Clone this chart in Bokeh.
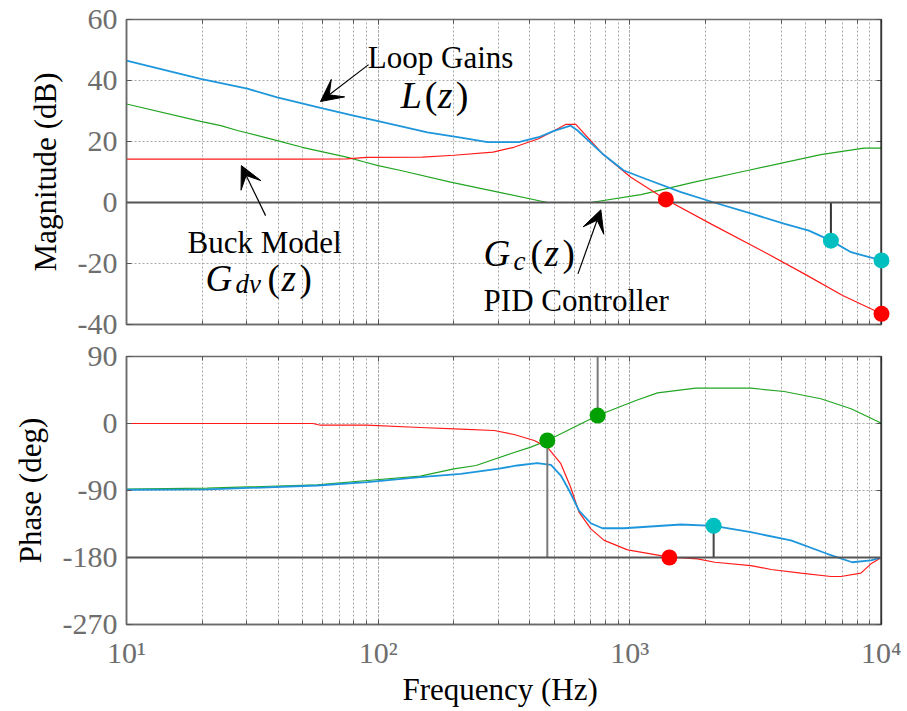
import numpy as np
from bokeh.plotting import figure
from bokeh.layouts import column
from bokeh.models import (FixedTicker, LinearAxis, LogAxis, Span, Label, Arrow,
                          VeeHead, ColumnDataSource, Range1d)
from bokeh.embed import file_html
from bokeh.resources import INLINE

# ---------------- data ----------------
# Magnitude (dB)
f_loop_mag = [10, 19.7, 30.2, 39.7, 59, 79.8, 100, 157, 213, 272, 362, 434, 500, 582,
              620, 778, 946, 1159, 1597, 2159, 3000, 4093, 5148, 6295, 7568, 10000]
loop_mag = [46.5, 40.5, 37.3, 34.5, 31.0, 28.5, 26.7, 23.0, 21.3, 19.8, 19.8, 21.4, 23.5, 25.2,
            23.6, 16.0, 10.5, 7.7, 3.4, 0.0, -3.5, -6.9, -9.2, -12.5, -16.3, -19.0]

f_buck_mag = [10, 20, 50, 75, 90, 150, 200, 286, 346, 434, 500, 556, 610, 778, 1009,
              1390, 2099, 3524, 4935, 7010, 10000]
buck_mag = [14.2, 14.2, 14.2, 14.3, 14.8, 14.9, 15.5, 16.5, 18.1, 20.9, 23.5, 25.6, 25.6, 16.0, 8.3,
            1.0, -7.0, -16.8, -23.4, -30.5, -36.5]

f_pid_mag = [10, 19.7, 23.7, 27.6, 39.7, 49.9, 75, 89, 100, 123, 194, 300, 470, 700,
             1107, 1802, 2938, 5741, 8510, 10000]
pid_mag = [32.3, 26.6, 25.2, 23.6, 20.3, 18.1, 14.9, 13.2, 12.1, 10.5, 6.7, 3.4, 0.0, 0.0,
           2.6, 6.7, 10.5, 15.7, 17.8, 17.8]

# Phase (deg)
f_buck_ph = [10, 55, 59, 90, 147, 213, 289, 347, 417, 470, 532, 582, 628, 700, 791, 980,
             1436, 1859, 2178, 3027, 3639, 4786, 6295, 6902, 8280, 9080, 10000]
buck_ph = [0, 0, -2.3, -2.3, -5.4, -7.6, -9.4, -14.8, -22.8, -31.8, -54, -85.6, -119, -141.5,
           -157, -169.7, -179.6, -181.8, -186.4, -190.8, -196.1, -201, -205.5, -205.5, -201,
           -188.5, -180]

f_loop_ph = [10, 20.9, 57.3, 90.6, 147, 213, 298, 357, 428, 486, 532, 574, 628, 700, 778,
             948, 1597, 2153, 3027, 4365, 6080, 7645, 9080, 10000]
loop_ph = [-89, -88.6, -83.3, -78.8, -72, -67.6, -61, -56.4, -53.3, -55.5, -69.9, -90, -116.9,
           -134, -140.7, -140.7, -135.7, -137.5, -146, -157, -175, -186.4, -184, -180]

f_pid_ph = [10, 20.9, 57.3, 90.6, 147, 200, 245, 335, 404, 470, 565, 745, 1057, 1288, 1828,
            3027, 4103, 5741, 7568, 10000]
pid_ph = [-88, -86.9, -82.4, -76.6, -70.8, -61, -56.4, -40.7, -31.8, -22.8, -9.4, 10.7, 30.9,
          41.2, 47.4, 47.4, 43, 33.2, 19.8, 0.4]

# margin markers
mag_red_f = [1390, 10000]
mag_red_v = [1.0, -36.5]
mag_cyan_f = [6295, 10000]
mag_cyan_v = [-12.5, -19.0]
ph_green_f = [470, 745]
ph_green_v = [-22.8, 10.7]
ph_red_f = [1436]
ph_red_v = [-180]
ph_cyan_f = [2153]
ph_cyan_v = [-137.5]

mag_ticks = [-40, -20, 0, 20, 40, 60]
ph_ticks = [-270, -180, -90, 0, 90]
x_tick_labels = {10: "10\u00b9", 100: "10\u00b2", 1000: "10\u00b3", 10000: "10\u2074"}

# ---------------- styling ----------------
FONT = "Liberation Serif"
BLUE = "#1e96dc"
RED = "#ff1a1a"
GREEN = "#22a522"
CYAN = "#00bfc0"
GREEN_M = "#00a000"
RED_M = "#ff0000"
GRAY = "#6e6e6e"


def hide_labels(ax):
    ax.major_label_text_font_size = "1px"
    ax.major_label_text_color = None
    ax.major_label_standoff = 0


def base_fig(y_lo, y_hi, ticks, ylabel, top, bottom, fh):
    p = figure(x_axis_type="log", x_range=Range1d(10, 1e4), y_range=Range1d(y_lo, y_hi),
               frame_width=755, frame_height=fh, min_border_left=126, min_border_right=20,
               min_border_top=top, min_border_bottom=bottom,
               output_backend="svg", toolbar_location=None)
    p.background_fill_color = "white"
    p.border_fill_color = None
    p.outline_line_color = "#6a6a6a"
    p.outline_line_width = 1.5
    for g in (p.xgrid, p.ygrid):
        g.grid_line_color = "#a8a8a8"
        g.grid_line_dash = "2 2"
        g.grid_line_width = 1
    p.xgrid.minor_grid_line_color = "#a8a8a8"
    p.xgrid.minor_grid_line_dash = "2 2"
    p.ygrid.ticker = FixedTicker(ticks=ticks)
    ya = p.left[0]
    xa = p.below[0]
    ya.ticker = FixedTicker(ticks=ticks)
    ya.major_label_overrides = {t: str(t) for t in ticks}
    ya.axis_label = ylabel
    ya.axis_label_text_font = FONT
    ya.axis_label_text_font_size = "31px"
    ya.axis_label_text_font_style = "normal"
    ya.axis_label_text_color = "black"
    ya.axis_label_standoff = 12
    ya.major_label_text_font = FONT
    ya.major_label_text_font_size = "30px"
    ya.major_label_text_color = GRAY
    ya.major_label_standoff = 9
    ya.axis_line_color = "#6a6a6a"
    ya.axis_line_width = 1.5
    ya.major_tick_in = 5
    ya.major_tick_out = 0
    ya.major_tick_line_color = "#555555"
    ya.minor_tick_line_color = None
    xa.axis_line_color = "#6a6a6a"
    xa.axis_line_width = 1.5
    xa.major_tick_in = 5
    xa.major_tick_out = 0
    xa.minor_tick_in = 4
    xa.minor_tick_out = 0
    xa.major_tick_line_color = "#555555"
    xa.minor_tick_line_color = "#555555"
    # right and top tick-only axes
    ra = LinearAxis(ticker=FixedTicker(ticks=ticks), axis_line_color=None, major_tick_in=5,
                    major_tick_out=0, minor_tick_line_color=None,
                    major_tick_line_color="#555555")
    hide_labels(ra)
    p.add_layout(ra, "right")
    ta = LogAxis(axis_line_color=None, major_tick_in=5, major_tick_out=0,
                 minor_tick_in=4, minor_tick_out=0, major_tick_line_color="#555555",
                 minor_tick_line_color="#555555")
    hide_labels(ta)
    p.add_layout(ta, "above")
    # right-hand reference line
    p.add_layout(Span(location=1e4, dimension="height", line_color="black", line_width=2))
    return p, xa


# ---------------- magnitude panel ----------------
p1, xa1 = base_fig(-40, 60, mag_ticks, "Magnitude (dB)", 19, 16, 305)
hide_labels(xa1)
p1.add_layout(Span(location=0, dimension="width", line_color="#555555", line_width=2))

p1.line(f_pid_mag, pid_mag, line_color=GREEN, line_width=1.2)
p1.line(f_buck_mag, buck_mag, line_color=RED, line_width=1.2)
p1.line(f_loop_mag, loop_mag, line_color=BLUE, line_width=1.8)

# gain-margin marker line
p1.segment(x0=[mag_cyan_f[0]], y0=[0], x1=[mag_cyan_f[0]], y1=[mag_cyan_v[0]],
           line_color="#333333", line_width=2)

p1.scatter(mag_red_f, mag_red_v, size=16, fill_color=RED_M, line_color=None, level="overlay")
p1.scatter(mag_cyan_f, mag_cyan_v, size=16, fill_color=CYAN, line_color=None, level="overlay")


def add_label(p, x, y, text, size, style="normal", align="left", xo=0, yo=0):
    p.add_layout(Label(x=x, y=y, text=text, text_font=FONT, text_font_size=size,
                       text_font_style=style, text_align=align,
                       text_baseline="alphabetic", x_offset=xo, y_offset=yo,
                       text_color="black"))


# annotations (data coordinates: Hz, dB)
add_label(p1, 177, 47.5, "Loop Gains", "31px", align="center")
add_label(p1, 35.4, -13.0, "Buck Model", "31px", align="center")
add_label(p1, 612, -32.1, "PID Controller", "31px", align="center")

# L(z)
add_label(p1, 122.9, 35.1, "L", "38px", "italic", xo=0)
add_label(p1, 122.9, 35.1, "(", "38px", "normal", xo=24)
add_label(p1, 122.9, 35.1, "z", "38px", "italic", xo=37)
add_label(p1, 122.9, 35.1, ")", "38px", "normal", xo=55)
# G_dv(z)
add_label(p1, 20.6, -24.9, "G", "37px", "italic", xo=0)
add_label(p1, 20.6, -24.9, "dv", "27px", "italic", xo=30, yo=-6)
add_label(p1, 20.6, -24.9, "(", "37px", "normal", xo=62)
add_label(p1, 20.6, -24.9, "z", "37px", "italic", xo=76)
add_label(p1, 20.6, -24.9, ")", "37px", "normal", xo=94)
# G_c(z)
add_label(p1, 262, -16.8, "G", "37px", "italic", xo=0)
add_label(p1, 262, -16.8, "c", "27px", "italic", xo=30, yo=-7)
add_label(p1, 262, -16.8, "(", "37px", "normal", xo=47)
add_label(p1, 262, -16.8, "z", "37px", "italic", xo=61)
add_label(p1, 262, -16.8, ")", "37px", "normal", xo=79)

arrow_src = ColumnDataSource(dict(
    x0=[91.6, 35.7, 622], y0=[45.2, -4.3, -23.4],
    x1=[59, 28.6, 767], y1=[33.1, 12.1, -2.4]))
p1.add_layout(Arrow(source=arrow_src, x_start="x0", y_start="y0", x_end="x1", y_end="y1",
                    line_color="black", line_width=1.2,
                    end=VeeHead(size=22, fill_color="black", line_color="black")))

# ---------------- phase panel ----------------
p2, xa2 = base_fig(-270, 90, ph_ticks, "Phase (deg)", 16, 79, 268)
xa2.axis_label = "Frequency  (Hz)"
xa2.axis_label_text_font = FONT
xa2.axis_label_text_font_size = "31px"
xa2.axis_label_text_font_style = "normal"
xa2.axis_label_text_color = "black"
xa2.axis_label_standoff = 0
xa2.major_label_text_font = FONT
xa2.major_label_text_font_size = "30px"
xa2.major_label_text_color = GRAY
xa2.major_label_standoff = 11
xa2.major_label_overrides = x_tick_labels
p2.add_layout(Span(location=-180, dimension="width", line_color="#555555", line_width=2))

p2.line(f_pid_ph, pid_ph, line_color=GREEN, line_width=1.2)
p2.line(f_buck_ph, buck_ph, line_color=RED, line_width=1.2)
p2.line(f_loop_ph, loop_ph, line_color=BLUE, line_width=1.8)

# phase-margin marker lines
p2.segment(x0=[ph_green_f[0], ph_green_f[1], ph_cyan_f[0]],
           y0=[ph_green_v[0], ph_green_v[1], ph_cyan_v[0]],
           x1=[ph_green_f[0], ph_green_f[1], ph_cyan_f[0]],
           y1=[-180, 90, -180],
           line_color=["#7a7a7a", "#7a7a7a", "#444444"], line_width=2)

p2.scatter(ph_green_f, ph_green_v, size=16, fill_color=GREEN_M, line_color=None, level="overlay")
p2.scatter(ph_red_f, ph_red_v, size=16, fill_color=RED_M, line_color=None, level="overlay")
p2.scatter(ph_cyan_f, ph_cyan_v, size=16, fill_color=CYAN, line_color=None, level="overlay")

layout = column(p1, p2, spacing=0)
html = file_html(layout, INLINE, "Bode")
open("out.html", "w").write(html)
